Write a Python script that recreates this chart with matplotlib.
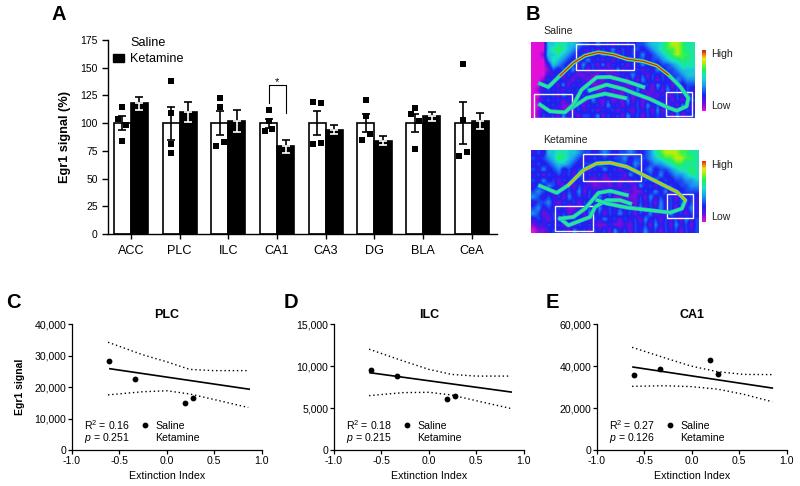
import numpy as np
import matplotlib
matplotlib.use("Agg")
import matplotlib.pyplot as plt
from matplotlib.colors import LinearSegmentedColormap
from matplotlib.patches import Rectangle

plt.rcParams["font.family"] = ["Liberation Sans", "DejaVu Sans"]
plt.rcParams["mathtext.fontset"] = "custom"
plt.rcParams["mathtext.rm"] = "Liberation Sans"
plt.rcParams["mathtext.it"] = "Liberation Sans:italic"
plt.rcParams["mathtext.default"] = "regular"

# panel A
regions = ["ACC", "PLC", "ILC", "CA1", "CA3", "DG", "BLA", "CeA"]
saline_mean = [100, 100, 100, 100, 100, 100, 100, 100]
saline_sem = [6, 15, 11, 4, 11, 8, 8, 19]
ketamine_mean = [118, 110, 102, 79, 94, 84, 106, 102]
ketamine_sem = [6, 9, 10, 6, 4, 4, 4, 7]
saline_points = [
    [115, 104, 98, 84],
    [138, 109, 81, 73],
    [123, 115, 79, 83],
    [112, 102, 93, 95],
    [119, 118, 81, 82],
    [121, 106, 90, 85],
    [114, 108, 102, 77],
    [153, 103, 70, 74],
]
point_offsets = [
    [0, -0.08, 0.08, 0],
    [0, 0, 0, 0],
    [0, 0, -0.08, 0.08],
    [0, 0, -0.08, 0.08],
    [-0.08, 0.08, -0.08, 0.08],
    [0, 0, 0.08, -0.08],
    [0, -0.08, 0.08, 0],
    [0, 0, -0.08, 0.08],
]

# panels C, D, E
extinction_index = [-0.61, -0.33, 0.19, 0.28]
plc_signal = [28300, 22400, 14900, 16500]
ilc_signal = [9500, 8800, 6100, 6400]
ca1_signal = [35500, 38500, 42800, 36200]

plc_fit_x, plc_fit_y = [-0.6, 0.87], [25800, 19300]
ilc_fit_x, ilc_fit_y = [-0.62, 0.87], [9200, 6900]
ca1_fit_x, ca1_fit_y = [-0.62, 0.85], [39500, 29500]

plc_band_x = [-0.62, -0.25, 0.0, 0.24, 0.49, 0.86]
plc_upper = [34200, 30200, 28000, 25600, 25200, 25200]
plc_lower = [17500, 18500, 18800, 17800, 16100, 13500]
ilc_band_x = [-0.63, -0.27, 0.0, 0.24, 0.5, 0.86]
ilc_upper = [12000, 10600, 9600, 9000, 8800, 8800]
ilc_lower = [6470, 6830, 6870, 6550, 5870, 4960]
ca1_band_x = [-0.63, -0.3, -0.01, 0.27, 0.55, 0.85]
ca1_upper = [48900, 44100, 40000, 37300, 36000, 35900]
ca1_lower = [30300, 30600, 30200, 29000, 26500, 23000]

# panel B, background intensity (0 to 9)
saline_scan = [
    "00055665543" "32423132323" "34556788766",
    "00056765432" "23132423233" "23456778766",
    "00155654323" "13242313232" "42345678776",
    "00046543232" "42313132423" "32334566766",
    "00025432314" "23141323132" "42323345666",
    "00013232423" "13212141323" "13242334555",
    "00022313211" "21131213242" "31323233455",
    "00132322132" "11213132131" "42313224344",
    "00323141322" "31121312123" "23142313233",
    "01232313231" "42113121314" "12131423132",
    "00323142313" "23241211312" "31213123242",
    "01232313132" "14213121413" "12132313133",
    "00323211231" "32314231323" "14232131422",
    "01231211132" "23132313213" "23141323232",
    "01323142313" "32413231423" "13232314123",
]
ketamine_scan = [
    "23255665543" "32343233432" "34678887766",
    "32345765432" "23232334233" "34567788776",
    "23234554323" "32423233243" "23445677666",
    "32423423232" "13242313232" "34233456676",
    "23132323142" "32313231423" "23242344566",
    "32423132323" "11211312132" "32423233445",
    "23243213132" "21121213214" "23132323344",
    "34321323241" "32314231211" "32424132333",
    "43232314232" "31423112113" "14232313232",
    "23342132313" "23132111213" "23142323132",
    "34232321122" "31423232314" "13242313242",
    "43123231231" "42313242313" "24131423132",
    "23213142323" "13242313231" "42313231423",
    "12232313132" "32113112132" "31423142313",
    "01123231423" "13231423132" "42313231323",
]

saline_ca1 = [(90, 252), (115, 262), (150, 228), (190, 190), (225, 168), (265, 158), (310, 165),
              (350, 178), (400, 185), (440, 198), (475, 225), (510, 260), (535, 295), (530, 320),
              (500, 333), (470, 322), (420, 298), (370, 280), (340, 268), (290, 255), (240, 272)]
saline_dg = [(90, 315), (120, 335), (165, 338), (190, 315), (215, 270), (260, 233), (300, 232),
             (350, 245), (400, 262)]
saline_thin = [(185, 325), (230, 295), (285, 282), (345, 295)]
ketamine_ca1 = [(90, 557), (140, 578), (175, 555), (220, 510), (260, 490), (300, 488), (350, 500),
                (400, 525), (450, 550), (500, 575), (525, 600), (515, 625), (480, 637), (420, 630),
                (350, 622), (290, 610), (262, 600)]
ketamine_dg = [(150, 655), (190, 650), (225, 625), (265, 578), (300, 572), (350, 585)]
ketamine_thin = [(150, 655), (175, 675), (240, 650), (255, 620), (290, 600), (330, 600), (360, 610)]

saline_boxes = [(199, 132, 174, 80), (73, 283, 114, 72), (467, 276, 78, 73)]
ketamine_boxes = [(218, 463, 174, 80), (136, 616, 113, 77), (470, 580, 77, 73)]

W, H = 800, 486
fig = plt.figure(figsize=(8, 4.86), dpi=100)


def px_axes(x0, y0, x1, y1):
    # x0, y0 is top left of the axes in image pixels
    return fig.add_axes([x0 / W, 1 - y1 / H, (x1 - x0) / W, (y1 - y0) / H])


def px_text(x, y, s, **kw):
    kw.setdefault("va", "center")
    fig.text(x / W, 1 - y / H, s, **kw)


rainbow = LinearSegmentedColormap.from_list("scan", [
    (0.0, "#e010d8"), (0.12, "#6a10e0"), (0.25, "#1c22f0"), (0.42, "#1aa0f0"), (0.55, "#18e0c8"),
    (0.68, "#20f060"), (0.78, "#a0f010"), (0.86, "#f0e810"), (0.93, "#f08010"), (1.0, "#d81808")])

# --- A ---
ax = px_axes(108, 40, 497, 234)
x = np.arange(len(regions))
ax.bar(x - 0.175, saline_mean, 0.35, color="white", edgecolor="black", linewidth=1.2)
ax.bar(x + 0.175, ketamine_mean, 0.35, color="black", edgecolor="black", linewidth=1.2)
for i in range(len(regions)):
    ax.errorbar(i - 0.175, saline_mean[i], yerr=saline_sem[i], color="black", capsize=3,
                elinewidth=1.2, capthick=1.2, zorder=4)
    ax.errorbar(i + 0.175, ketamine_mean[i], yerr=[[0], [ketamine_sem[i]]], color="black",
                capsize=3, elinewidth=1.2, capthick=1.2, zorder=4)
    ax.errorbar(i + 0.175, ketamine_mean[i], yerr=[[ketamine_sem[i]], [0]], color="white",
                capsize=3, elinewidth=1.2, capthick=1.2, zorder=4)
    ax.plot(i - 0.175 + np.array(point_offsets[i]), saline_points[i], "s", color="black", ms=4.3,
            mew=0, ls="none", zorder=5, clip_on=False)
ax.plot([3 - 0.175, 3 - 0.175, 3 + 0.175, 3 + 0.175], [118, 134, 134, 109], color="black", lw=0.8)
ax.text(3, 137, "*", ha="center", va="center", fontsize=8)
ax.set_xlim(-0.47, 7.515)
ax.set_ylim(0, 175)
ax.set_yticks(range(0, 176, 25))
ax.set_xticks(x)
ax.set_xticklabels(regions, fontsize=9.1)
ax.tick_params(axis="y", labelsize=7.5, length=4, width=1, pad=3.5)
ax.tick_params(axis="x", length=3.5, width=1, pad=4.5)
ax.spines[["top", "right"]].set_visible(False)
ax.spines[["left", "bottom"]].set_linewidth(1)
ax.set_ylabel("Egr1 signal (%)", fontsize=9.2, fontweight="bold", labelpad=6.5)
ax.add_patch(Rectangle((113 / W, 1 - 62 / H), 11 / W, 8 / H, transform=fig.transFigure,
                       color="black", clip_on=False))
px_text(130, 43.5, "Saline", fontsize=9.1)
px_text(130, 58.5, "Ketamine", fontsize=9.1)


# --- B ---
def draw_scan(box, ext, grid, ca1, dg, thin, boxes, hot):
    sx = px_axes(*box)
    data = np.array([[int(c) for c in row] for row in grid]) / 10
    sx.imshow(data, cmap=rainbow, vmin=0, vmax=1, extent=ext, aspect="auto",
              interpolation="bilinear")
    for line in (thin, dg, ca1):
        xs, ys = zip(*line)
        sx.plot(xs, ys, color="#18b0e8", lw=3, solid_joinstyle="round")
        sx.plot(xs, ys, color="#28e890", lw=2, solid_joinstyle="round")
    xs, ys = zip(*ca1[2:11])
    sx.plot(xs, ys, color="#90f020", lw=1.8)
    sx.plot(xs, ys, color=hot, lw=0.9)
    for bx, by, bw, bh in boxes:
        sx.add_patch(Rectangle((bx, by), bw, bh, fill=False, edgecolor="#f4f4f4", lw=1))
    sx.set_xlim(ext[0], ext[1])
    sx.set_ylim(ext[2], ext[3])
    sx.axis("off")


draw_scan((531, 42, 695, 118), (63, 555, 355, 127), saline_scan,
          saline_ca1, saline_dg, saline_thin, saline_boxes, "#e02010")
draw_scan((531, 150, 699, 233), (63, 566, 698, 450), ketamine_scan,
          ketamine_ca1, ketamine_dg, ketamine_thin, ketamine_boxes, "#f0a010")

scale = np.linspace(1, 0, 100).reshape(-1, 1)
for top, bottom in [(50, 111), (161, 222)]:
    cx = px_axes(702, top, 706, bottom)
    cx.imshow(scale, cmap=rainbow, aspect="auto", vmin=0, vmax=1)
    cx.axis("off")
    px_text(711, top + 4, "High", fontsize=7.6, color="#222222")
    px_text(711, bottom - 5, "Low", fontsize=7.6, color="#222222")
px_text(543, 31.5, "Saline", fontsize=7.6, color="#222222")
px_text(543, 140, "Ketamine", fontsize=7.6, color="#222222")


# --- C, D, E ---
def draw_scatter(left, title, signal, fit_x, fit_y, band_x, upper, lower, ymax, ystep, r2, p, dot_y):
    sx = px_axes(left, 324, left + 189.5, 450)
    sx.plot(band_x, upper, color="black", lw=1, ls=(0, (1, 2)))
    sx.plot(band_x, lower, color="black", lw=1, ls=(0, (1, 2)))
    sx.plot(fit_x, fit_y, color="black", lw=1.2)
    sx.plot(extinction_index, signal, "o", color="black", ms=4.2, mew=0)
    sx.plot([-0.23], [dot_y], "o", color="black", ms=4.2, mew=0)
    sx.set_xlim(-1, 1)
    sx.set_ylim(0, ymax)
    sx.set_xticks([-1, -0.5, 0, 0.5, 1])
    sx.set_xticklabels(["-1.0", "-0.5", "0.0", "0.5", "1.0"])
    yt = list(range(0, ymax + 1, ystep))
    sx.set_yticks(yt)
    sx.set_yticklabels([f"{v:,}" for v in yt])
    sx.tick_params(labelsize=7.6, length=2.6, width=0.9, pad=1.5)
    sx.spines[["top", "right"]].set_visible(False)
    sx.spines[["left", "bottom"]].set_linewidth(0.9)
    sx.set_xlabel("Extinction Index", fontsize=7.7, labelpad=3.5)
    sx.set_title(title, fontsize=9, fontweight="bold", pad=4.5)
    px_text(left + 12, 425, f"R$^2$ = {r2}", fontsize=7.6)
    px_text(left + 12, 438, f"$\\it{{p}}$ = {p}", fontsize=7.6)
    px_text(left + 83, 426, "Saline", fontsize=7.6)
    px_text(left + 83, 438, "Ketamine", fontsize=7.6)
    return sx


pc = draw_scatter(72, "PLC", plc_signal, plc_fit_x, plc_fit_y, plc_band_x, plc_upper, plc_lower,
                  40000, 10000, "0.16", "0.251", 7900)
pc.set_ylabel("Egr1 signal", fontsize=7.5, fontweight="bold", labelpad=7)
draw_scatter(334, "ILC", ilc_signal, ilc_fit_x, ilc_fit_y, ilc_band_x, ilc_upper, ilc_lower,
             15000, 5000, "0.18", "0.215", 2976)
draw_scatter(597, "CA1", ca1_signal, ca1_fit_x, ca1_fit_y, ca1_band_x, ca1_upper, ca1_lower,
             60000, 20000, "0.27", "0.126", 11900)

for lx, ly, letter in [(52, 15, "A"), (526, 15, "B"), (6, 302, "C"), (284, 302, "D"), (546, 302, "E")]:
    px_text(lx, ly, letter, fontsize=14.5, fontweight="bold")

fig.savefig("out.png", dpi=100)
